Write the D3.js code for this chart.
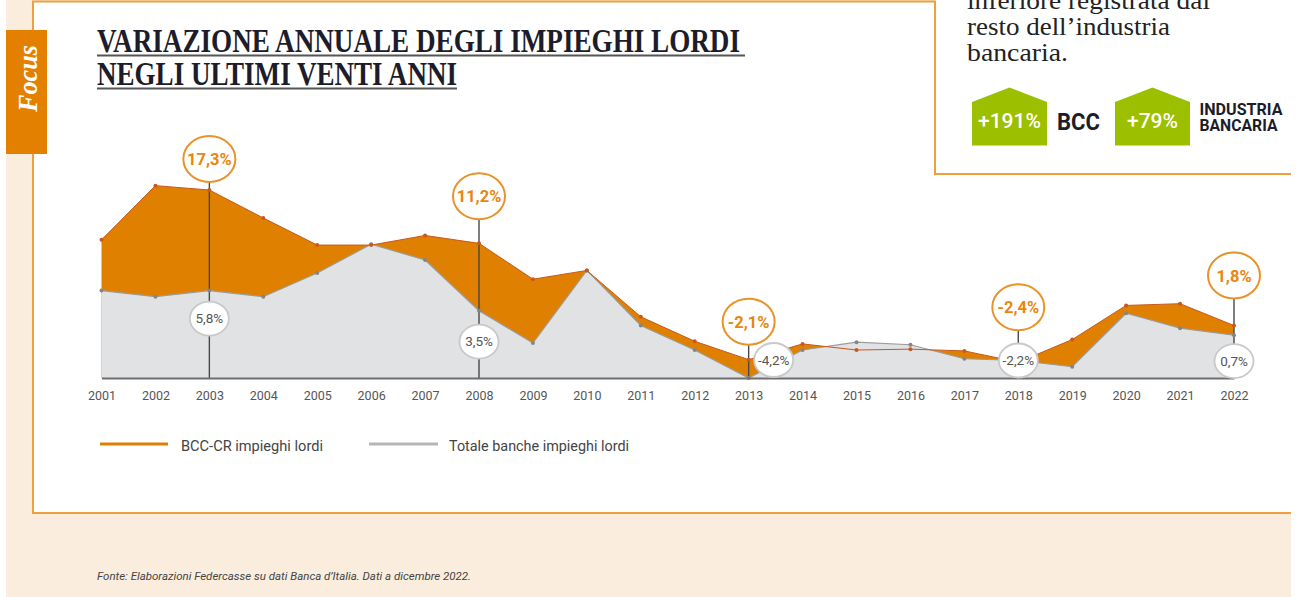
<!DOCTYPE html>
<html>
<head>
<meta charset="utf-8">
<title>Variazione annuale degli impieghi lordi</title>
<script src="https://cdnjs.cloudflare.com/ajax/libs/d3/7.8.5/d3.min.js"></script>
<style>
	html, body { margin: 0; padding: 0; background: #fff; overflow: hidden; }
	svg { display: block; }
	.tick text { font-family: Roboto, sans-serif; font-size: 12.5px; font-weight: 400; fill: #555; }
</style>
</head>
<body>
<div class="chart"></div>
<script>

	// values, labelled years use the printed numbers
	var years = ["2001", "2002", "2003", "2004", "2005", "2006", "2007", "2008", "2009", "2010", "2011",
		"2012", "2013", "2014", "2015", "2016", "2017", "2018", "2019", "2020", "2021", "2022"];
	var bccValues = [11.6, 17.8, 17.3, 14.1, 11.0, 11.0, 12.1, 11.2, 7.1, 8.1, 2.8,
		0.0, -2.1, -0.3, -1.0, -0.9, -1.1, -2.4, 0.2, 4.1, 4.3, 1.8];
	var totaleValues = [5.8, 5.1, 5.8, 5.1, 7.8, 11.1, 9.3, 3.5, -0.2, 8.1, 1.8,
		-1.0, -4.2, -1.0, -0.1, -0.4, -2.0, -2.2, -2.9, 3.2, 1.5, 0.7];
	var calloutYears = ["2003", "2008", "2013", "2018", "2022"];
	var seriesNames = ["BCC-CR impieghi lordi", "Totale banche impieghi lordi"];

	var COLORS = {
		page: "#fbeddd",
		border: "#ef9f3c",
		orange: "#e08000",
		orangeLine: "#c9581a",
		grey: "#e1e2e4",
		greyLine: "#9b9b9b",
		green: "#9cbf00",
		stem: "#484848",
		ink: "#1c1c2a"
	};

	var WIDTH = 1297,
		HEIGHT = 597;

	// bubble offsets from the data point they belong to
	var orangeOffset = { "2003": -31, "2008": -47, "2013": -38, "2018": -55, "2022": -50 };
	var whiteOffset = {
		"2003": [0, 28],
		"2008": [0, 31],
		"2013": [25, -18],
		"2018": [0, 0],
		"2022": [0, 26]
	};

	var svg = d3.select(".chart").append("svg")
		.attr("width", WIDTH)
		.attr("height", HEIGHT);

	// page furniture
	svg.append("rect")
		.attr("x", 6).attr("y", 0)
		.attr("width", 1285).attr("height", HEIGHT)
		.attr("fill", COLORS.page);

	svg.append("rect")
		.attr("x", 33).attr("y", 1)
		.attr("width", 1258).attr("height", 512)
		.attr("fill", "#fff");
	svg.append("rect")
		.attr("x", 935).attr("y", 0)
		.attr("width", 356).attr("height", 174)
		.attr("fill", "#fff");
	svg.append("path")
		.attr("d", "M1291,513H33V1.5H935V174H1291")
		.attr("fill", "none")
		.attr("stroke", COLORS.border)
		.attr("stroke-width", 2);

	svg.append("rect")
		.attr("x", 6).attr("y", 30)
		.attr("width", 41).attr("height", 124)
		.attr("fill", "#e38000");
	svg.append("text")
		.attr("transform", "translate(37,112) rotate(-90)")
		.attr("font-family", "Liberation Serif")
		.attr("font-style", "italic")
		.attr("font-weight", 700)
		.attr("font-size", 28)
		.attr("fill", "#fff")
		.attr("textLength", 67)
		.attr("lengthAdjust", "spacingAndGlyphs")
		.text("Focus");

	// title
	var titleLines = [
		{ text: "VARIAZIONE ANNUALE DEGLI IMPIEGHI LORDI", x2: 745, len: 643, y: 52 },
		{ text: "NEGLI ULTIMI VENTI ANNI", x2: 457, len: 360, y: 85 }
	];
	titleLines.forEach(function (d) {
		svg.append("text")
			.attr("x", 97).attr("y", d.y)
			.attr("font-family", "Liberation Serif")
			.attr("font-weight", 700)
			.attr("font-size", 33)
			.attr("fill", COLORS.ink)
			.attr("textLength", d.len)
			.attr("lengthAdjust", "spacingAndGlyphs")
			.text(d.text);
		svg.append("line")
			.attr("x1", 97).attr("x2", d.x2)
			.attr("y1", d.y + 3.5).attr("y2", d.y + 3.5)
			.attr("stroke", "#555")
			.attr("stroke-width", 2);
	});

	// top right box
	var boxLines = [
		{ text: "inferiore registrata dai", y: 9, len: 243 },
		{ text: "resto dell\u2019industria", y: 35, len: 203 },
		{ text: "bancaria.", y: 61, len: 101 }
	];
	svg.selectAll(".box-line")
		.data(boxLines)
		.enter().append("text")
		.classed("box-line", true)
		.attr("x", 967)
		.attr("y", function (d) { return d.y; })
		.attr("font-family", "Liberation Serif")
		.attr("font-size", 26)
		.attr("fill", "#222")
		.attr("textLength", function (d) { return d.len; })
		.attr("lengthAdjust", "spacingAndGlyphs")
		.text(function (d) { return d.text; });

	function house(x, label, labelLen) {
		svg.append("path")
			.attr("d", "M" + x + ",102L" + (x + 37.5) + ",87.5L" + (x + 75) + ",102V145.5H" + x + "Z")
			.attr("fill", COLORS.green);
		svg.append("text")
			.attr("x", x + 37.5).attr("y", 127.5)
			.attr("text-anchor", "middle")
			.attr("font-family", "Roboto")
			.attr("font-weight", 500)
			.attr("font-size", 20)
			.attr("fill", "#fff")
			.attr("textLength", labelLen)
			.attr("lengthAdjust", "spacingAndGlyphs")
			.text(label);
	}
	house(972, "+191%", 63);
	house(1115, "+79%", 51);

	svg.append("text")
		.attr("x", 1057).attr("y", 130)
		.attr("font-family", "Roboto")
		.attr("font-weight", 700)
		.attr("font-size", 23)
		.attr("fill", COLORS.ink)
		.attr("textLength", 43)
		.attr("lengthAdjust", "spacingAndGlyphs")
		.text("BCC");

	[["INDUSTRIA", 115, 83], ["BANCARIA", 131, 78]].forEach(function (d) {
		svg.append("text")
			.attr("x", 1199.5).attr("y", d[1])
			.attr("font-family", "Roboto")
			.attr("font-weight", 700)
			.attr("font-size", 16.5)
			.attr("fill", COLORS.ink)
			.attr("textLength", d[2])
			.attr("lengthAdjust", "spacingAndGlyphs")
			.text(d[0]);
	});

	// scales
	var x = d3.scalePoint().domain(years).range([101.5, 1234]);
	var y = d3.scaleLinear().domain([-4.2, 17.3]).range([378, 190]);

	var rows = years.map(function (year, i) {
		return { year: year, bcc: bccValues[i], totale: totaleValues[i] };
	});

	function areaFor(key) {
		return d3.area()
			.x(function (d) { return x(d.year); })
			.y0(y(-4.2))
			.y1(function (d) { return y(d[key]); });
	}

	function lineFor(key) {
		return d3.line()
			.x(function (d) { return x(d.year); })
			.y(function (d) { return y(d[key]); });
	}

	// orange sits behind the grey, so it only shows where BCC is above the total
	svg.append("path").attr("d", areaFor("bcc")(rows)).attr("fill", COLORS.orange);
	svg.append("path").attr("d", areaFor("totale")(rows)).attr("fill", COLORS.grey);

	// stems
	svg.selectAll(".stem")
		.data(calloutYears)
		.enter().append("line")
		.classed("stem", true)
		.attr("x1", function (d) { return x(d); })
		.attr("x2", function (d) { return x(d); })
		.attr("y1", function (d) {
			return y(bccValues[years.indexOf(d)]) + orangeOffset[d];
		})
		.attr("y2", y(-4.2))
		.attr("stroke", COLORS.stem)
		.attr("stroke-width", 1.4);

	svg.append("path")
		.attr("d", lineFor("totale")(rows))
		.attr("fill", "none")
		.attr("stroke", COLORS.greyLine)
		.attr("stroke-width", 1.2);
	svg.append("path")
		.attr("d", lineFor("bcc")(rows))
		.attr("fill", "none")
		.attr("stroke", COLORS.orangeLine)
		.attr("stroke-width", 1);

	svg.selectAll(".dot-t")
		.data(rows)
		.enter().append("circle")
		.classed("dot-t", true)
		.attr("cx", function (d) { return x(d.year); })
		.attr("cy", function (d) { return y(d.totale); })
		.attr("r", 2)
		.attr("fill", "#858585");
	svg.selectAll(".dot-b")
		.data(rows)
		.enter().append("circle")
		.classed("dot-b", true)
		.attr("cx", function (d) { return x(d.year); })
		.attr("cy", function (d) { return y(d.bcc); })
		.attr("r", 2)
		.attr("fill", COLORS.orangeLine);

	// axis
	var xAxis = d3.axisBottom(x).tickSize(0).tickPadding(13);
	var axisG = svg.append("g")
		.attr("transform", "translate(0," + y(-4.2) + ")")
		.call(xAxis);
	axisG.select(".domain")
		.attr("stroke", "#6e6e6e")
		.attr("stroke-width", 2);

	function pct(v) {
		return String(v.toFixed(1)).replace(".", ",") + "%";
	}

	// bubbles
	var orangeBubbles = svg.selectAll(".bubble-o")
		.data(calloutYears)
		.enter().append("g")
		.classed("bubble-o", true)
		.attr("transform", function (d) {
			return "translate(" + x(d) + "," + (y(bccValues[years.indexOf(d)]) + orangeOffset[d]) + ")";
		});
	orangeBubbles.append("ellipse")
		.attr("rx", 26).attr("ry", 23)
		.attr("fill", "#fff")
		.attr("stroke", "#e8932a")
		.attr("stroke-width", 2);
	orangeBubbles.append("text")
		.attr("text-anchor", "middle")
		.attr("y", 6)
		.attr("font-family", "Roboto")
		.attr("font-weight", 700)
		.attr("font-size", 16.5)
		.attr("fill", "#e8860f")
		.text(function (d) { return pct(bccValues[years.indexOf(d)]); });

	var whiteBubbles = svg.selectAll(".bubble-w")
		.data(calloutYears)
		.enter().append("g")
		.classed("bubble-w", true)
		.attr("transform", function (d) {
			var o = whiteOffset[d];
			return "translate(" + (x(d) + o[0]) + "," + (y(totaleValues[years.indexOf(d)]) + o[1]) + ")";
		});
	whiteBubbles.append("ellipse")
		.attr("rx", 19.5).attr("ry", 17)
		.attr("fill", "#fff")
		.attr("stroke", "#c9c9c9")
		.attr("stroke-width", 1.8);
	whiteBubbles.append("text")
		.attr("text-anchor", "middle")
		.attr("y", 4.5)
		.attr("font-family", "Roboto")
		.attr("font-weight", 400)
		.attr("font-size", 13.5)
		.attr("fill", "#555")
		.text(function (d) { return pct(totaleValues[years.indexOf(d)]); });

	// legend
	var legend = [
		{ name: seriesNames[0], color: "#e08000", x1: 100, x2: 168, tx: 181, len: 142 },
		{ name: seriesNames[1], color: "#b5b5b5", x1: 369, x2: 438, tx: 449, len: 180 }
	];
	legend.forEach(function (d) {
		svg.append("line")
			.attr("x1", d.x1).attr("x2", d.x2)
			.attr("y1", 444).attr("y2", 444)
			.attr("stroke", d.color)
			.attr("stroke-width", 3);
		svg.append("text")
			.attr("x", d.tx).attr("y", 451)
			.attr("font-family", "Roboto")
			.attr("font-weight", 400)
			.attr("font-size", 15)
			.attr("fill", "#444")
			.attr("textLength", d.len)
			.attr("lengthAdjust", "spacingAndGlyphs")
			.text(d.name);
	});

	svg.append("text")
		.attr("x", 97).attr("y", 580)
		.attr("font-family", "Roboto")
		.attr("font-style", "italic")
		.attr("font-weight", 400)
		.attr("font-size", 11.5)
		.attr("fill", "#444")
		.attr("textLength", 374)
		.attr("lengthAdjust", "spacingAndGlyphs")
		.text("Fonte: Elaborazioni Federcasse su dati Banca d\u2019Italia. Dati a dicembre 2022.");

</script>
</body>
</html>
